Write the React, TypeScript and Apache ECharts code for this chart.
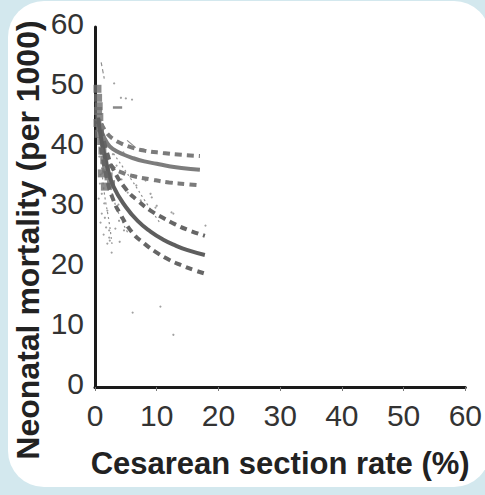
import React, { useEffect, useRef } from "react";
import * as echarts from "echarts";

const xTicks = [0, 10, 20, 30, 40, 50, 60];
const yTicks = [0, 10, 20, 30, 40, 50, 60];

const upperFit: number[][] = [[0.5, 44.9], [1, 42.8], [2, 40.6], [3, 39.6], [4.5, 38.8], [6, 38.2], [8, 37.6], [10, 37.2], [12, 36.8], [14, 36.5], [17, 36.2]];
const upperCiHigh: number[][] = [[1, 43.9], [2, 42.2], [3, 41.3], [4, 40.7], [6, 39.9], [8, 39.4], [11, 39.0], [14, 38.7], [17, 38.5]];
const upperCiLow: number[][] = [[1, 40.9], [2, 37.9], [3, 36.5], [4.5, 35.7], [6, 35.2], [9, 34.6], [12, 34.1], [15, 33.8], [17, 33.6]];

const lowerFit: number[][] = [[0.5, 44.9], [1, 41.4], [2, 36.6], [3, 33.4], [5, 30.0], [7, 27.6], [9, 25.9], [11, 24.6], [13, 23.6], [15, 22.8], [17.8, 22.0]];
const lowerCiHigh: number[][] = [[1, 42.9], [2, 38.9], [3, 36.2], [5, 33.0], [7, 31.0], [9, 29.4], [11, 28.2], [13, 27.1], [15, 26.2], [17.8, 25.2]];
const lowerCiLow: number[][] = [[1, 39.9], [2, 34.4], [3, 31.1], [4, 29.0], [6, 25.8], [8, 23.9], [10, 22.4], [12, 21.2], [14, 20.3], [16, 19.5], [17.8, 18.9]];

const clusterPoints: number[][] = [[0.4, 49.7], [0.5, 48.2], [0.6, 46.8], [0.5, 46.0], [0.7, 45.0], [0.4, 44.0], [0.8, 43.2], [0.6, 42.2], [1.0, 41.0], [1.2, 39.4], [1.5, 37.9], [1.8, 36.4], [2.2, 35.1], [2.6, 33.8], [1.1, 35.6], [1.6, 33.4]];

const scatterPoints: number[][] = [
  [3.1, 50.6], [4.2, 48.2], [5.0, 48.1], [6.0, 47.9], [0.8, 33.9], [1.1, 32.2], [1.5, 30.6], [1.6, 28.2],
  [2.3, 26.1], [2.4, 24.4], [1.1, 28.9], [1.8, 26.6], [2.3, 24.9], [2.7, 22.4], [3.9, 27.7], [4.7, 26.1],
  [10.0, 30.2], [12.4, 29.1], [17.9, 26.9], [7.4, 31.1], [9.2, 31.6], [9.8, 29.9], [12.7, 28.9], [8.2, 34.4],
  [9.0, 32.2], [6.1, 12.4], [10.6, 13.4], [12.7, 8.7], [3.5, 36.9], [4.3, 34.6], [5.3, 32.4], [2.9, 38.8],
  [1.3, 36.4], [0.9, 35.4], [3.8, 30.4], [5.8, 28.8], [2.0, 29.4], [0.7, 38.4], [6.7, 33.6], [4.6, 39.1],
  [0.6, 31.4], [0.9, 27.4], [1.4, 25.4], [2.0, 23.9], [3.3, 26.4], [4.0, 24.2]
];

const traceA: number[][] = [[1.0, 54.1], [1.5, 51.4]];
const traceB: number[][] = [[5.2, 41.1], [6.6, 39.9]];
const traceC: number[][] = [[3, 38.9], [6, 34.4], [8.5, 30.4], [10.5, 27.4]];
const traceD: number[][] = [[1, 37.4], [1.5, 32.4], [2.3, 27.4], [2.8, 23.4]];
const traceE: number[][] = [[2, 36.4], [3, 31.4], [4.5, 27.4], [5.5, 25.4]];
const traceF: number[][] = [[2.9, 46.6], [4.4, 46.6]];

export default function App() {
  const ref = useRef<HTMLDivElement>(null);
  useEffect(() => {
    if (!ref.current) return;
    const chart = echarts.init(ref.current, null, { renderer: "svg" });
    const solid = (data: number[][], color: string) => ({
      type: "line", data, smooth: true, showSymbol: false, symbol: "none",
      lineStyle: { color, width: 4 }, z: 4,
    });
    const dashed = (data: number[][], color: string) => ({
      type: "line", data, smooth: true, showSymbol: false, symbol: "none",
      lineStyle: { color, width: 4, type: [7, 5] }, z: 4,
    });
    const thin = (data: number[][], type: any) => ({
      type: "line", data, smooth: true, showSymbol: false, symbol: "none",
      lineStyle: { color: "#8f8f8f", width: 1.2, type }, z: 3,
    });
    chart.setOption({
      animation: false,
      grid: { left: 95, right: 18, top: 27, bottom: 108, containLabel: false },
      xAxis: {
        type: "value", min: 0, max: 60, interval: 10,
        name: "Cesarean section rate (%)", nameLocation: "middle", nameGap: 61,
        nameTextStyle: { fontFamily: "Liberation Sans", fontWeight: "bold", fontSize: 31, color: "#222" },
        axisLine: { show: true, onZero: false, lineStyle: { color: "#1a1a1a", width: 3 } },
        axisTick: { show: true, length: 4, lineStyle: { color: "#777", width: 1 } },
        axisLabel: { fontFamily: "Liberation Sans", fontSize: 30, color: "#333", margin: 13,
          formatter: (v: number) => (xTicks.includes(v) ? String(v) : "") },
        splitLine: { show: false },
      },
      yAxis: {
        type: "value", min: 0, max: 60, interval: 10, offset: 3,
        axisLine: { show: true, lineStyle: { color: "#1a1a1a", width: 3 } },
        axisTick: { show: false },
        axisLabel: { fontFamily: "Liberation Sans", fontSize: 30, color: "#333", margin: 8,
          verticalAlign: "bottom", lineHeight: 7,
          formatter: (v: number) => (yTicks.includes(v) ? String(v) : "") },
        splitLine: { show: false },
      },
      graphic: [
        {
          type: "text", x: 28, y: 240, rotation: Math.PI / 2,
          style: { text: "Neonatal mortality (per 1000)", fontFamily: "Liberation Sans", fontWeight: "bold",
            fontSize: 32, fill: "#222", textAlign: "center", textVerticalAlign: "middle" },
        },
      ],
      series: [
        {
          type: "scatter", data: scatterPoints, symbol: "circle", symbolSize: 2.2,
          itemStyle: { color: "#8a8a8a" }, z: 2,
        },
        thin(traceA, [4, 3]), thin(traceB, "solid"), thin(traceC, [2, 3]), thin(traceD, [2, 3]),
        thin(traceE, [2, 3]), { ...thin(traceF, "solid"), lineStyle: { color: "#888", width: 2.5 } },
        {
          type: "scatter", data: clusterPoints, symbol: "rect", symbolSize: 8,
          itemStyle: { color: "#6e6e6e" }, z: 3,
        },
        dashed(upperCiHigh, "#7b7b7b"), solid(upperFit, "#7d7d7d"), dashed(upperCiLow, "#7b7b7b"),
        dashed(lowerCiHigh, "#666"), solid(lowerFit, "#5e5e5e"), dashed(lowerCiLow, "#666"),
      ],
    });
    return () => chart.dispose();
  }, []);
  return (
    <div style={{ position: "fixed", left: 0, top: 0, width: 485, height: 495, background: "#d3e8ee", overflow: "hidden" }}>
      <div style={{ position: "absolute", left: 8, top: 1, width: 482, height: 486, background: "#fff", borderRadius: 36 }} />
      <div ref={ref} style={{ position: "absolute", left: 0, top: 0, width: 485, height: 495 }} />
    </div>
  );
}
